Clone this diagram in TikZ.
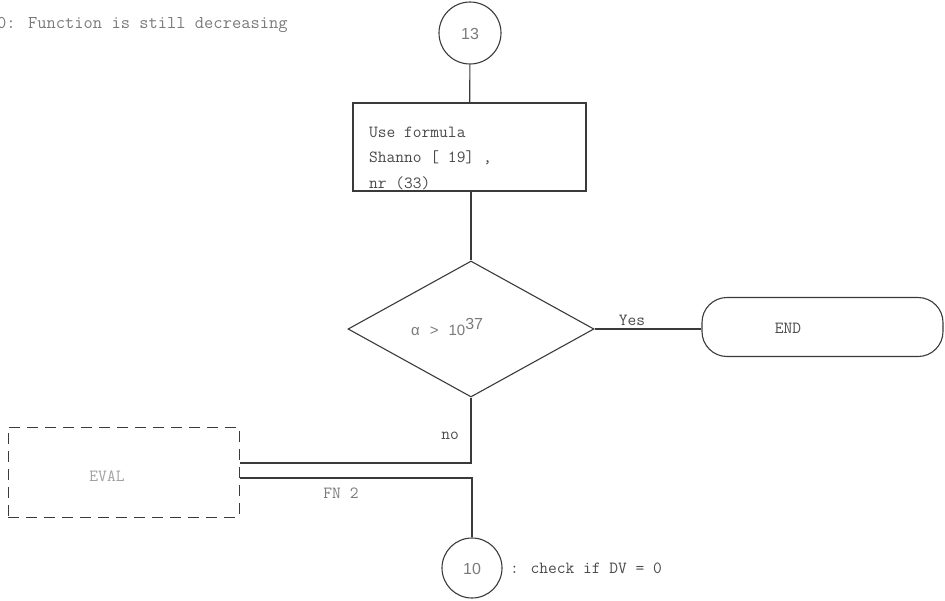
\documentclass[tikz,border=0pt]{standalone}
\usepackage{fontspec}
\setmainfont{Liberation Sans}
\setsansfont{Liberation Sans}
\usetikzlibrary{shapes.geometric}
\definecolor{ink}{HTML}{3A3A3A}
\definecolor{txt}{HTML}{4A4A4A}
\definecolor{pale}{HTML}{7A7A7A}
\definecolor{faint}{HTML}{A0A0A0}
\begin{document}
\begin{tikzpicture}[x=1pt,y=-1pt,
  line/.style={draw=ink,line width=1.1pt},
  connector/.style={line},
  term/.style={circle,line,minimum size=62pt,inner sep=0pt},
  procbox/.style={rectangle,line,inner sep=0pt},
  decision/.style={diamond,line,inner sep=0pt,minimum width=246pt,minimum height=136pt},
  endbox/.style={rectangle,line,rounded corners=25pt,inner sep=0pt,minimum width=241pt,minimum height=59pt},
  extbox/.style={rectangle,draw=ink,line width=1pt,dash pattern=on 11pt off 7pt,inner sep=0pt,minimum width=231pt,minimum height=90pt},
  mono/.style={font=\ttfamily\fontsize{17}{20}\selectfont,text=txt,inner sep=0pt},
  digits/.style={font=\sffamily\fontsize{16}{18}\selectfont,text=pale,inner sep=0pt}]
\useasboundingbox (0,0) rectangle (945,600);
\clip (0,0) rectangle (945,600);

% heading note, running in from the left edge
\node[mono,font=\ttfamily\fontsize{18}{20}\selectfont,text=pale,anchor=base west] (note) at (-3,28) {0: Function is still decreasing};

% connector 13
\node[term] (c13) at (470,33) {};
\node[digits] (c13lbl) at (470,34) {13};

% formula box
\node[procbox,minimum width=233pt,minimum height=88pt] (formula) at (469.5,147) {};
\node[mono,anchor=base west] (fline1) at (369,137) {Use formula};
\node[mono,anchor=base west] (fline2) at (369,162) {Shanno [ 19] ,};
\node[mono,anchor=base west] (fline3) at (369,188) {nr (33)};

% overflow test
\node[decision] (test) at (471,329) {};
\node[font=\sffamily\fontsize{15}{18}\selectfont,text=pale,inner sep=0pt,anchor=base west] (cond) at (411,335) {α\hspace{10pt}>\hspace{10pt}10\textsuperscript{\fontsize{16}{18}\selectfont 37}};

% terminal
\node[endbox] (endb) at (822.5,327) {};
\node[mono] (endlbl) at (788,328) {END};

% external evaluation routine
\node[extbox] (eval) at (123.5,472) {};
\node[mono,text=faint] (evallbl) at (107,476) {EVAL};

% connector 10
\node[term,minimum size=60pt] (c10) at (472,568) {};
\node[digits] (c10lbl) at (472,569) {10};
\node[mono,anchor=west] (c10note) at (510,568) {: check if DV = 0};

% return points on the routine box
\coordinate (evalin) at ([yshift=9pt]eval.east);
\coordinate (evalout) at ([yshift=-6pt]eval.east);

% flow lines
\draw[connector] (c13) -- (formula);
\draw[connector] (formula.south -| test.north) -- (test.north);
\draw[connector] (test.east) -- (test.east -| endb.west);
\draw[connector] (test.south) |- (evalin);
\draw[connector] (evalout) -| (c10.north);

% line labels
\node[mono] (yes) at (632,320) {Yes};
\node[mono] (no) at (450,436) {no};
\node[mono,text=pale] (fn) at (341,493) {FN 2};
\end{tikzpicture}
\end{document}
